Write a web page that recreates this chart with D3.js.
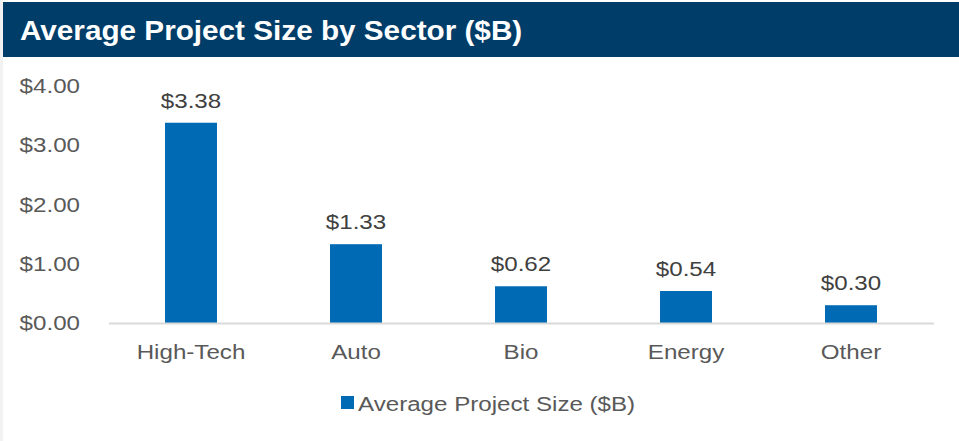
<!DOCTYPE html>
<html>
<head>
<meta charset="utf-8">
<script src="https://cdn.jsdelivr.net/npm/d3@7"></script>
<style>
  body { margin: 0; background: #fff; }
  text { font-family: "Liberation Sans", Arial, sans-serif; }
</style>
</head>
<body>
<div id="chart"></div>
<script>
// chart data
var sectors = ["High-Tech", "Auto", "Bio", "Energy", "Other"];
var avgSize = [3.38, 1.33, 0.62, 0.54, 0.30];
var yTicks = [0, 1, 2, 3, 4];
var title = "Average Project Size by Sector ($B)";
var seriesName = "Average Project Size ($B)";

var W = 959, H = 441;
var margin = {top: 86, left: 108.5, right: 25.5, bottom: 118};
var width = W - margin.left - margin.right,
    height = H - margin.top - margin.bottom;
var stretch = "scale(1.15,1)"; // reference text is a bit wide
var fs = 21;

var svg = d3.select("#chart").append("svg")
    .attr("width", W)
    .attr("height", H);

// left light strip + header band
svg.append("rect").attr("x", 0).attr("y", 0).attr("width", 3).attr("height", H).attr("fill", "#f2f2f2");
svg.append("rect").attr("x", 3).attr("y", 2).attr("width", W - 3).attr("height", 55).attr("fill", "#003d69");
svg.append("text")
    .attr("transform", "translate(20,40) scale(1.1,1)")
    .attr("fill", "#fff")
    .attr("font-size", 27)
    .attr("font-weight", "bold")
    .text(title);

var g = svg.append("g").attr("transform", "translate(" + margin.left + "," + margin.top + ")");

var x = d3.scaleBand().domain(sectors).range([0, width]).paddingInner(0.685).paddingOuter(0.3425);
var y = d3.scaleLinear().domain([0, 4]).range([height, 0]);

// y axis labels
var yAxis = d3.axisLeft(y).tickValues(yTicks).tickSize(0)
    .tickFormat(function(d) { return "$" + d3.format(".2f")(d); });
g.append("g").call(yAxis)
  .call(function(s) { s.select(".domain").remove(); })
  .selectAll("text")
    .attr("x", 0)
    .attr("transform", "translate(-28.5,0) " + stretch)
    .attr("font-size", fs)
    .attr("fill", "#595959")
    .attr("font-family", "'Liberation Sans', Arial, sans-serif");

// bars
g.selectAll(".bar")
  .data(sectors)
  .enter().append("rect")
    .attr("class", "bar")
    .attr("x", function(d) { return x(d); })
    .attr("width", x.bandwidth())
    .attr("y", function(d, i) { return y(avgSize[i]); })
    .attr("height", function(d, i) { return height - y(avgSize[i]); })
    .attr("fill", "#006ab4");

// baseline + category labels
var xAxis = d3.axisBottom(x).tickSize(0).tickPadding(21);
g.append("g").attr("transform", "translate(0," + height + ")").call(xAxis)
  .call(function(s) { s.select(".domain").attr("stroke", "#d9d9d9").attr("stroke-width", 2); })
  .selectAll("text")
    .attr("transform", stretch)
    .attr("font-size", fs)
    .attr("fill", "#595959")
    .attr("font-family", "'Liberation Sans', Arial, sans-serif");

// value labels
g.selectAll(".val")
  .data(sectors)
  .enter().append("text")
    .attr("class", "val")
    .attr("transform", function(d, i) {
      return "translate(" + (x(d) + x.bandwidth() / 2) + "," + (y(avgSize[i]) - 15) + ") " + stretch;
    })
    .attr("text-anchor", "middle")
    .attr("font-size", fs)
    .attr("fill", "#404040")
    .text(function(d, i) { return "$" + d3.format(".2f")(avgSize[i]); });

// legend
var legend = svg.append("g").attr("transform", "translate(341,396)");
legend.append("rect").attr("width", 13).attr("height", 13).attr("fill", "#006ab4");
legend.append("text")
    .attr("transform", "translate(17,14.5) " + stretch)
    .attr("font-size", fs)
    .attr("fill", "#595959")
    .text(seriesName);
</script>
</body>
</html>
